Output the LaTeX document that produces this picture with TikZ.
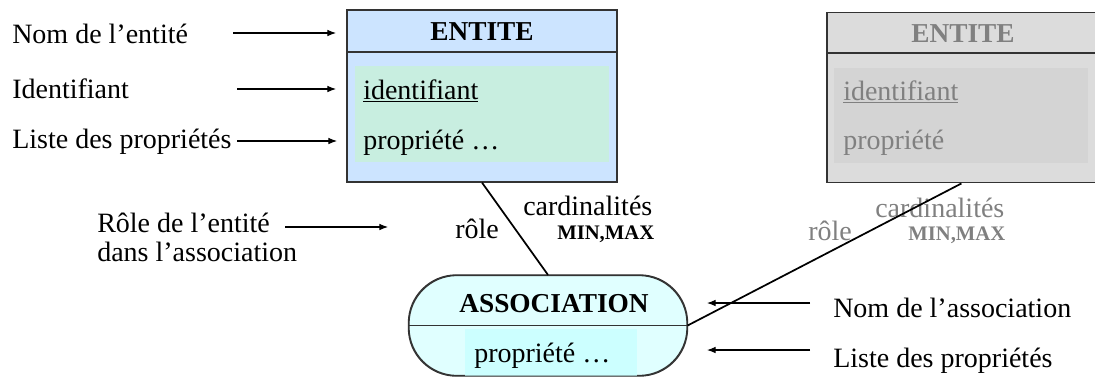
\documentclass[tikz,border=0pt]{standalone}
\usepackage{fontspec}
\setmainfont{Liberation Serif}
\usetikzlibrary{arrows.meta}
\definecolor{entblue}{HTML}{CCE4FF}
\definecolor{entgreen}{HTML}{C8EEE0}
\definecolor{greybox}{HTML}{DCDCDC}
\definecolor{greyinner}{HTML}{D4D4D4}
\definecolor{greytext}{HTML}{808080}
\definecolor{assofill}{HTML}{E0FFFF}
\definecolor{assoinner}{HTML}{CCFFFF}
\definecolor{edge}{HTML}{333333}
\begin{document}
\begin{tikzpicture}[x=0.75pt,y=-0.75pt,
  lbl/.style={anchor=base west,inner sep=0pt,font=\fontsize{21}{25}\selectfont},
  title/.style={anchor=base,inner sep=0pt,font=\fontsize{20.5}{24}\selectfont\bfseries},
  card/.style={anchor=base west,inner sep=0pt,font=\fontsize{15.5}{18}\selectfont\bfseries},
  entbox/.style={draw=edge,line width=0.9pt,inner sep=0pt},
  pointer/.style={line width=0.8pt,-{Latex[length=6.5pt,width=5pt]}},
  link/.style={line width=1.3pt,black},
]
\useasboundingbox (0,0) rectangle (1095,376);

% ---- main entity ----
\node[entbox,fill=entblue,minimum width=202.5pt,minimum height=129pt] (ent1) at (482,96) {};
\fill[entgreen] (355,66) rectangle (609,162);
\draw[draw=edge,line width=0.9pt] (ent1.west |- 0,52) -- (ent1.east |- 0,52);
\node[title] (ent1name) at (482,40) {ENTITE};
\node[lbl] (ent1id) at (363,99) {\underline{identifiant}};
\node[lbl] (ent1prop) at (363,149) {propriété …};

% ---- second (greyed) entity, running past the right edge ----
\node[entbox,fill=greybox,minimum width=232pt,minimum height=128pt] (ent2) at (981.7,97.5) {};
\path (ent2.south west) ++(135,0) coordinate (ent2foot);
\fill[greyinner] (834,68) rectangle (1088,163);
\draw[draw=edge,line width=0.9pt] (ent2.west |- 0,53) -- (ent2.east |- 0,53);
\node[title,text=greytext] (ent2name) at (963,42) {ENTITE};
\node[lbl,text=greytext] (ent2id) at (843,100) {\underline{identifiant}};
\node[lbl,text=greytext] (ent2prop) at (843,149) {propriété};

% ---- association ----
\node[draw=edge,line width=0.9pt,fill=assofill,rounded corners=36pt,
      minimum width=208.5pt,minimum height=75pt,inner sep=0pt] (asso) at (548,325.5) {};
\begin{scope}
  \clip[rounded corners=36pt] (asso.south west) rectangle (asso.north east);
  \fill[assoinner] (465,329) rectangle (637,380);
\end{scope}
\draw[draw=edge,line width=0.9pt] (asso.west) -- (asso.east);
\draw[draw=edge,line width=0.9pt,rounded corners=36pt] (asso.south west) rectangle (asso.north east);
\node[title] (assoname) at (554,312) {ASSOCIATION};
\node[lbl] (assoprop) at (474,362) {propriété …};

% ---- role and cardinality labels ----
\node[lbl] (role1) at (455,238) {rôle};
\node[lbl] (card1) at (523,215) {cardinalités};
\node[card] (mm1) at (557,239) {MIN,MAX};
\node[lbl,text=greytext] (role2) at (808,240) {rôle};
\node[lbl,text=greytext] (card2) at (875,217) {cardinalités};
\node[card,text=greytext] (mm2) at (908,240) {MIN,MAX};

% ---- links ----
\draw[link] (ent1.south) -- (asso.north);
\draw[link] (ent2foot) -- (asso.east);

% ---- explanatory labels (left) ----
\node[lbl] (lnom) at (12,43) {Nom de l’entité};
\node[lbl] (lid) at (12,98) {Identifiant};
\node[lbl] (lprop) at (12,148) {Liste des propriétés};
\node[lbl] (lrole) at (97,232) {Rôle de l’entité};
\node[lbl] (ldans) at (97,261) {dans l’association};

\coordinate (a1s) at (233,33);  \coordinate (a1e) at (336,33);
\coordinate (a2s) at (237,89);  \coordinate (a2e) at (336,89);
\coordinate (a3s) at (237,141); \coordinate (a3e) at (337,141);
\coordinate (a4s) at (285,227); \coordinate (a4e) at (388,227);
\draw[pointer] (a1s) -- (a1e);
\draw[pointer] (a2s) -- (a2e);
\draw[pointer] (a3s) -- (a3e);
\draw[pointer] (a4s) -- (a4e);

% ---- explanatory labels (right) ----
\node[lbl] (rnom) at (833,317) {Nom de l’association};
\node[lbl] (rprop) at (833,367) {Liste des propriétés};
\coordinate (b1s) at (810,303); \coordinate (b1e) at (707,303);
\coordinate (b2s) at (810,350); \coordinate (b2e) at (707,350);
\draw[pointer] (b1s) -- (b1e);
\draw[pointer] (b2s) -- (b2e);
\end{tikzpicture}
\end{document}
